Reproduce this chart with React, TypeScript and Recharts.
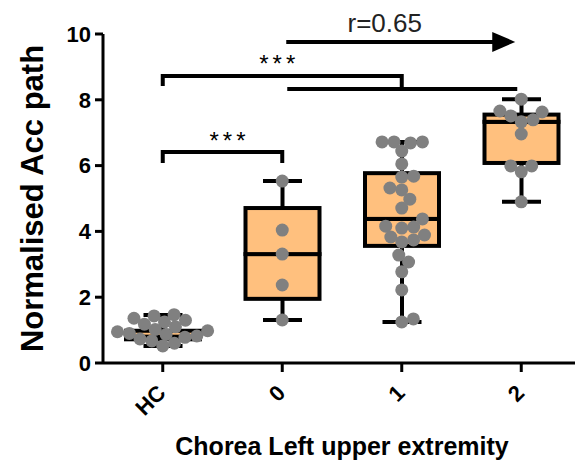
/**
 * Normalised Acc path by chorea score (left upper extremity).
 *
 * Box (min–max whiskers) + every subject as a grey dot, swarm-spread
 * sideways so nothing hides. Boxes are a stacked range bar, dots are
 * stroke-less Lines so the library places each one on its own y scale.
 */
import { ComposedChart, Bar, Line, XAxis, YAxis, ReferenceLine } from 'recharts';

const groups = ['HC', '0', '1', '2'];

const hcValues = [
  1.47, 1.43, 1.36, 1.3, 1.25, 1.18, 1.1, 1.02, 0.98, 0.95, 0.9, 0.87, 0.82,
  0.78, 0.73, 0.67, 0.6, 0.52,
];
const score0Values = [5.53, 4.04, 3.31, 2.37, 1.31];
const score1Values = [
  6.72, 6.72, 6.69, 6.72, 6.44, 6.05, 5.68, 5.65, 5.32, 5.26, 4.98, 4.71, 4.38,
  4.16, 4.1, 4.13, 3.89, 3.83, 3.74, 3.68, 3.28, 3.07, 2.77, 2.22, 1.25, 1.34,
];
const score2Values = [8.02, 7.63, 7.51, 7.66, 7.39, 7.33, 6.96, 5.99, 5.81, 5.99, 4.9];

const whiskerLow = [0.52, 1.31, 1.25, 4.9];
const quartile1 = [0.72, 1.95, 3.56, 6.08];
const medians = [0.8, 3.31, 4.38, 7.33];
const quartile3 = [0.98, 4.71, 5.77, 7.55];
const whiskerHigh = [1.46, 5.53, 6.72, 8.02];

const yTicks = [0, 2, 4, 6, 8, 10];
const correlation = 'r=0.65';
const stars = '***';

const W = 590;
const H = 464;
const MARGIN = { top: 34, right: 9, bottom: 0, left: 0 };
const Y_AXIS_W = 103;
const X_AXIS_H = 101;
const PX_PER_UNIT = (H - MARGIN.top - MARGIN.bottom - X_AXIS_H) / 10;

const FONT = '"Liberation Sans", Arial, Helvetica, sans-serif';
const BOX_FILL = '#FFC07E';
const DOT = '#808080';
const DOT_R = 6.5;
const SWARM_GAP = 12;
const CAP_W = 39;
const LW = 4;

// greedy beeswarm: lowest value first, take the candidate nearest the centre
function swarm(values: number[]): number[] {
  const placed: { x: number; y: number }[] = [];
  const dx = values.map(() => 0);
  const order = values.map((_, i) => i).sort((a, b) => values[a] - values[b]);
  for (const i of order) {
    const y = values[i] * PX_PER_UNIT;
    const near = placed.filter((p) => Math.abs(p.y - y) < SWARM_GAP);
    const cands = [0];
    for (const p of near) {
      const h = Math.sqrt(SWARM_GAP * SWARM_GAP - (p.y - y) ** 2);
      cands.push(p.x + h, p.x - h);
    }
    cands.sort((a, b) => Math.abs(a) - Math.abs(b));
    const x =
      cands.find((c) => near.every((p) => (p.x - c) ** 2 + (p.y - y) ** 2 >= SWARM_GAP ** 2 - 0.01)) ?? 0;
    dx[i] = x;
    placed.push({ x, y });
  }
  return dx;
}

const groupValues = [hcValues, score0Values, score1Values, score2Values];
const maxN = Math.max(...groupValues.map((v) => v.length));

const rows = groups.map((group, i) => {
  const row: Record<string, any> = {
    group,
    lo: whiskerLow[i],
    q1: quartile1[i],
    med: medians[i],
    q3: quartile3[i],
    hi: whiskerHigh[i],
    dx: swarm(groupValues[i]),
  };
  groupValues[i].forEach((v, j) => {
    row[`p${j}`] = v;
  });
  return row;
});

const LowerWhisker = (p: any) => {
  const cx = p.x + p.width / 2;
  return (
    <g>
      <line x1={cx} x2={cx} y1={p.y} y2={p.y + p.height} stroke="#000" strokeWidth={LW} />
      <line x1={cx - CAP_W / 2} x2={cx + CAP_W / 2} y1={p.y + p.height} y2={p.y + p.height} stroke="#000" strokeWidth={LW} />
    </g>
  );
};

const UpperWhisker = (p: any) => {
  const cx = p.x + p.width / 2;
  return (
    <g>
      <line x1={cx} x2={cx} y1={p.y} y2={p.y + p.height} stroke="#000" strokeWidth={LW} />
      <line x1={cx - CAP_W / 2} x2={cx + CAP_W / 2} y1={p.y} y2={p.y} stroke="#000" strokeWidth={LW} />
    </g>
  );
};

const BoxHalf = (p: any) => (
  <rect x={p.x} y={p.y} width={p.width} height={Math.max(p.height, 0)} fill={BOX_FILL} stroke="#000" strokeWidth={LW} />
);

const bracket =
  (legL: number, legR: number, label: string, labelDx: number, labelDy: number) => (p: any) => (
    <g>
      <path
        d={`M${p.x1},${p.y1 + legL}V${p.y1}H${p.x2}V${p.y2 + legR}`}
        fill="none"
        stroke="#000"
        strokeWidth={LW}
      />
      <text
        x={(p.x1 + p.x2) / 2 + labelDx}
        y={p.y1 + labelDy}
        textAnchor="middle"
        fontFamily={FONT}
        fontSize={24}
        letterSpacing={4}
        fill="#000"
      >
        {label}
      </text>
    </g>
  );

const plainLine = (p: any) => (
  <line x1={p.x1 + 5} x2={p.x2 - 4} y1={p.y1} y2={p.y2} stroke="#000" strokeWidth={LW} />
);

const trendArrow = (p: any) => {
  const tip = p.x2 - 6;
  return (
    <g>
      <line x1={p.x1 + 4} x2={tip - 20} y1={p.y1} y2={p.y1} stroke="#000" strokeWidth={LW} />
      <polygon points={`${tip - 23},${p.y1 - 10} ${tip},${p.y1} ${tip - 23},${p.y1 + 10}`} fill="#000" />
      <text
        x={(p.x1 + p.x2) / 2 - 17}
        y={p.y1 - 10}
        textAnchor="middle"
        fontFamily={FONT}
        fontSize={26}
        fill="#222"
      >
        {correlation}
      </text>
    </g>
  );
};

const XTick = (p: any) => (
  <g transform={`translate(${p.x - 1},${p.y + 15}) rotate(-45)`}>
    <text textAnchor="end" dominantBaseline="central" fontFamily={FONT} fontSize={22} fontWeight="bold" fill="#000">
      {p.payload.value}
    </text>
  </g>
);

export default function App() {
  return (
    <div style={{ position: 'absolute', left: 0, top: 0, width: 575, height: 464, overflow: 'hidden', background: '#fff' }}>
      <ComposedChart width={W} height={H} data={rows} margin={MARGIN} barSize={74}>
        <XAxis
          dataKey="group"
          height={X_AXIS_H}
          axisLine={{ stroke: '#000', strokeWidth: 3 }}
          tickLine={{ stroke: '#000', strokeWidth: 3 }}
          tickSize={9}
          tickMargin={2}
          tick={<XTick />}
          interval={0}
          label={(props: any) => {
            const vb = props.viewBox;
            return (
              <text
                x={vb.x + vb.width / 2}
                y={455}
                textAnchor="middle"
                fontFamily={FONT}
                fontSize={25}
                fontWeight="bold"
                fill="#000"
              >
                Chorea Left upper extremity
              </text>
            );
          }}
        />
        <YAxis
          domain={[0, 10]}
          ticks={yTicks}
          width={Y_AXIS_W}
          axisLine={{ stroke: '#000', strokeWidth: 3 }}
          tickLine={{ stroke: '#000', strokeWidth: 3 }}
          tickSize={8}
          tickMargin={4}
          tick={{ fill: '#000', fontSize: 22, fontWeight: 'bold', fontFamily: FONT }}
          label={(props: any) => {
            const vb = props.viewBox;
            const cx = 32;
            const cy = vb.y + vb.height / 2;
            return (
              <text
                x={cx}
                y={cy}
                transform={`rotate(-90 ${cx} ${cy})`}
                textAnchor="middle"
                dominantBaseline="central"
                fontFamily={FONT}
                fontSize={31}
                fontWeight="bold"
                fill="#000"
              >
                Normalised Acc path
              </text>
            );
          }}
        />
        <Bar dataKey="lo" stackId="box" fill="transparent" isAnimationActive={false} />
        <Bar dataKey={(d: any) => d.q1 - d.lo} stackId="box" shape={LowerWhisker} isAnimationActive={false} />
        <Bar dataKey={(d: any) => d.med - d.q1} stackId="box" shape={BoxHalf} isAnimationActive={false} />
        <Bar dataKey={(d: any) => d.q3 - d.med} stackId="box" shape={BoxHalf} isAnimationActive={false} />
        <Bar dataKey={(d: any) => d.hi - d.q3} stackId="box" shape={UpperWhisker} isAnimationActive={false} />
        {Array.from({ length: maxN }, (_, j) => (
          <Line
            key={`p${j}`}
            dataKey={`p${j}`}
            stroke="none"
            activeDot={false}
            isAnimationActive={false}
            dot={(d: any) => {
              if (d.cy == null || Number.isNaN(d.cy)) return <g key={`e${j}-${d.index}`} />;
              return <circle key={`d${j}-${d.index}`} cx={d.cx + d.payload.dx[j]} cy={d.cy} r={DOT_R} fill={DOT} />;
            }}
          />
        ))}
        <ReferenceLine
          segment={[{ x: 'HC', y: 6.41 }, { x: '0', y: 6.41 }]}
          ifOverflow="visible"
          shape={bracket(11, 11, stars, 7, -3)}
        />
        <ReferenceLine
          segment={[{ x: 'HC', y: 8.72 }, { x: '1', y: 8.72 }]}
          ifOverflow="visible"
          shape={bracket(10, 13, stars, -3, -4)}
        />
        <ReferenceLine segment={[{ x: '0', y: 8.33 }, { x: '2', y: 8.33 }]} ifOverflow="visible" shape={plainLine} />
        <ReferenceLine segment={[{ x: '0', y: 9.76 }, { x: '2', y: 9.76 }]} ifOverflow="visible" shape={trendArrow} />
      </ComposedChart>
    </div>
  );
}
